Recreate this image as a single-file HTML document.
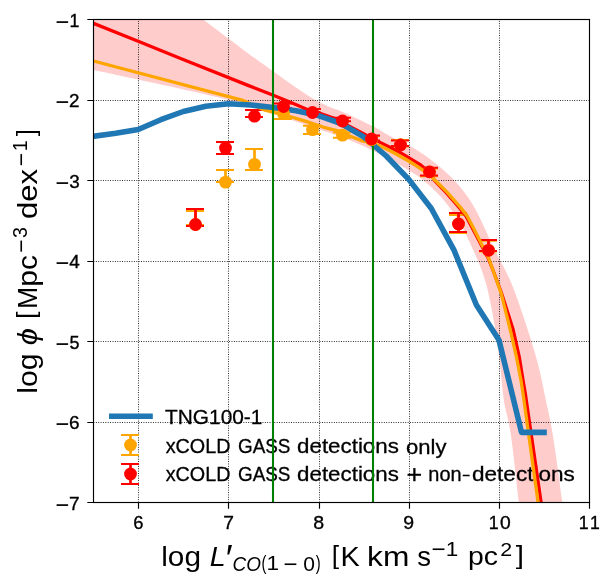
<!DOCTYPE html>
<html><head><meta charset="utf-8"><title>CO luminosity function</title>
<style>
html,body{margin:0;padding:0;background:#fff;}
body{width:613px;height:588px;overflow:hidden;font-family:"Liberation Sans",sans-serif;}
svg{display:block;will-change:transform;}
svg text{font-family:"Liberation Sans",sans-serif;fill:#000;}
</style></head><body>
<svg width="613" height="588" viewBox="0 0 613 588">
<rect width="613" height="588" fill="#fff"/>
<defs><clipPath id="ax"><rect x="93.5" y="19.5" width="496.0" height="483.0"/></clipPath></defs>
<g clip-path="url(#ax)">
<path d="M93.50,-63.30 C104.58,-54.93 141.77,-26.85 160.00,-13.10 C178.23,0.65 188.23,8.15 202.90,19.20 C217.57,30.25 236.30,44.52 248.00,53.20 C259.70,61.88 265.22,65.67 273.10,71.30 C280.98,76.93 287.48,81.78 295.30,87.00 C303.12,92.22 311.73,98.25 320.00,102.60 C328.27,106.95 336.18,109.18 344.90,113.10 C353.62,117.02 364.78,122.27 372.30,126.10 C379.82,129.93 382.05,131.78 390.00,136.10 C397.95,140.42 410.00,145.35 420.00,152.00 C430.00,158.65 441.17,167.17 450.00,176.00 C458.83,184.83 465.53,192.67 473.00,205.00 C480.47,217.33 488.40,236.97 494.80,250.00 C501.20,263.03 506.08,270.45 511.40,283.20 C516.72,295.95 522.23,312.90 526.70,326.50 C531.17,340.10 535.02,352.55 538.20,364.80 C541.38,377.05 543.35,388.27 545.80,400.00 C548.25,411.73 550.17,418.35 552.90,435.20 C555.63,452.05 560.52,489.30 562.20,501.10 C563.88,512.90 562.87,505.18 563.00,506.00 L519.30,506.00 C519.20,505.18 520.10,512.90 518.70,501.10 C517.30,489.30 513.38,452.05 510.90,435.20 C508.42,418.35 505.62,411.73 503.80,400.00 C501.98,388.27 501.50,377.05 500.00,364.80 C498.50,352.55 497.15,340.10 494.80,326.50 C492.45,312.90 489.50,295.95 485.90,283.20 C482.30,270.45 478.35,261.37 473.20,250.00 C468.05,238.63 462.20,225.67 455.00,215.00 C447.80,204.33 439.17,194.33 430.00,186.00 C420.83,177.67 412.45,172.25 400.00,165.00 C387.55,157.75 371.97,149.50 355.30,142.50 C338.63,135.50 321.05,130.07 300.00,123.00 C278.95,115.93 263.42,108.92 229.00,100.10 C194.58,91.28 116.08,75.10 93.50,70.10Z" fill="#ff0000" fill-opacity="0.2"/>
</g>
<path d="M138.50,502.5V19.5 M228.50,502.5V19.5 M319.50,502.5V19.5 M409.50,502.5V19.5 M499.50,502.5V19.5 M93.5,422.50H589.5 M93.5,341.50H589.5 M93.5,261.50H589.5 M93.5,180.50H589.5 M93.5,100.50H589.5" stroke="#000" stroke-width="0.9" stroke-dasharray="0.9 1.48" fill="none"/>
<g id="legendtext">
<text transform="translate(165.03,423.65) scale(0.1043,0.1007)" font-size="200" stroke="#000" stroke-width="2.93">TNG100-1</text>
<text transform="translate(165.65,452.75) scale(0.0988,0.1007)" font-size="200" stroke="#000" stroke-width="3.01">xCOLD</text>
<text transform="translate(238.01,452.75) scale(0.0944,0.1007)" font-size="200" stroke="#000" stroke-width="3.08">GASS</text>
<text transform="translate(165.65,480.65) scale(0.0988,0.1007)" font-size="200" stroke="#000" stroke-width="3.01">xCOLD</text>
<text transform="translate(238.01,480.65) scale(0.0944,0.1007)" font-size="200" stroke="#000" stroke-width="3.08">GASS</text>
<text transform="translate(297.06,452.75) scale(0.1117,0.0993)" font-size="200" stroke="#000" stroke-width="2.84">detections</text>
<text transform="translate(405.97,453.55) scale(0.1103,0.1048)" font-size="200" stroke="#000" stroke-width="2.79">only</text>
<text transform="translate(297.06,480.65) scale(0.1117,0.0993)" font-size="200" stroke="#000" stroke-width="2.84">detections</text>
<text transform="translate(406.55,483.18) scale(0.1345,0.1296)" font-size="200" stroke="#000" stroke-width="2.27">+</text>
<text transform="translate(428.30,480.66) scale(0.0998,0.0973)" font-size="200" stroke="#000" stroke-width="3.04">non</text>
<text transform="translate(461.86,480.41) scale(0.1327,0.0813)" font-size="200" stroke="#000" stroke-width="2.81">-</text>
<text transform="translate(472.05,480.65) scale(0.1127,0.0993)" font-size="200" stroke="#000" stroke-width="2.83">detections</text>
</g>
<g clip-path="url(#ax)">
<path d="M195.50,211.00V225.00" stroke="#ffa500" stroke-width="2.7" fill="none"/>
<path d="M186.00,211.00H204.00" stroke="#ffa500" stroke-width="2.0" fill="none"/>
<path d="M186.00,225.00H204.00" stroke="#ffa500" stroke-width="2.0" fill="none"/>
<path d="M225.50,170.00V182.00" stroke="#ffa500" stroke-width="2.7" fill="none"/>
<path d="M216.00,170.00H234.00" stroke="#ffa500" stroke-width="2.0" fill="none"/>
<path d="M216.00,182.00H234.00" stroke="#ffa500" stroke-width="2.0" fill="none"/>
<path d="M254.50,149.00V170.00" stroke="#ffa500" stroke-width="2.7" fill="none"/>
<path d="M245.00,149.00H263.00" stroke="#ffa500" stroke-width="2.0" fill="none"/>
<path d="M245.00,170.00H263.00" stroke="#ffa500" stroke-width="2.0" fill="none"/>
<path d="M283.50,110.00V119.00" stroke="#ffa500" stroke-width="2.7" fill="none"/>
<path d="M274.00,110.00H292.00" stroke="#ffa500" stroke-width="2.0" fill="none"/>
<path d="M274.00,119.00H292.00" stroke="#ffa500" stroke-width="2.0" fill="none"/>
<path d="M312.50,125.80V134.00" stroke="#ffa500" stroke-width="2.7" fill="none"/>
<path d="M303.00,125.80H321.00" stroke="#ffa500" stroke-width="2.0" fill="none"/>
<path d="M303.00,134.00H321.00" stroke="#ffa500" stroke-width="2.0" fill="none"/>
<path d="M342.50,132.60V137.80" stroke="#ffa500" stroke-width="2.7" fill="none"/>
<path d="M333.00,132.60H351.00" stroke="#ffa500" stroke-width="2.0" fill="none"/>
<path d="M333.00,137.80H351.00" stroke="#ffa500" stroke-width="2.0" fill="none"/>
<path d="M371.50,136.00V141.20" stroke="#ffa500" stroke-width="2.7" fill="none"/>
<path d="M362.00,136.00H380.00" stroke="#ffa500" stroke-width="2.0" fill="none"/>
<path d="M362.00,141.20H380.00" stroke="#ffa500" stroke-width="2.0" fill="none"/>
<path d="M400.50,140.00V146.60" stroke="#ffa500" stroke-width="2.7" fill="none"/>
<path d="M391.00,140.00H409.00" stroke="#ffa500" stroke-width="2.0" fill="none"/>
<path d="M391.00,146.60H409.00" stroke="#ffa500" stroke-width="2.0" fill="none"/>
<path d="M429.50,168.40V176.20" stroke="#ffa500" stroke-width="2.7" fill="none"/>
<path d="M420.00,168.40H438.00" stroke="#ffa500" stroke-width="2.0" fill="none"/>
<path d="M420.00,176.20H438.00" stroke="#ffa500" stroke-width="2.0" fill="none"/>
<path d="M458.50,214.90V232.90" stroke="#ffa500" stroke-width="2.7" fill="none"/>
<path d="M449.00,214.90H467.00" stroke="#ffa500" stroke-width="2.0" fill="none"/>
<path d="M449.00,232.90H467.00" stroke="#ffa500" stroke-width="2.0" fill="none"/>
<path d="M488.50,240.70V251.40" stroke="#ffa500" stroke-width="2.7" fill="none"/>
<path d="M479.00,240.70H497.00" stroke="#ffa500" stroke-width="2.0" fill="none"/>
<path d="M479.00,251.40H497.00" stroke="#ffa500" stroke-width="2.0" fill="none"/>
<path d="M195.50,209.00V226.00" stroke="#ff0000" stroke-width="2.7" fill="none"/>
<path d="M186.00,209.00H204.00" stroke="#ff0000" stroke-width="2.0" fill="none"/>
<path d="M186.00,226.00H204.00" stroke="#ff0000" stroke-width="2.0" fill="none"/>
<path d="M225.50,142.00V154.00" stroke="#ff0000" stroke-width="2.7" fill="none"/>
<path d="M216.00,142.00H234.00" stroke="#ff0000" stroke-width="2.0" fill="none"/>
<path d="M216.00,154.00H234.00" stroke="#ff0000" stroke-width="2.0" fill="none"/>
<path d="M254.50,110.00V117.00" stroke="#ff0000" stroke-width="2.7" fill="none"/>
<path d="M245.00,110.00H263.00" stroke="#ff0000" stroke-width="2.0" fill="none"/>
<path d="M245.00,117.00H263.00" stroke="#ff0000" stroke-width="2.0" fill="none"/>
<path d="M283.50,103.50V108.00" stroke="#ff0000" stroke-width="2.7" fill="none"/>
<path d="M274.00,103.50H292.00" stroke="#ff0000" stroke-width="2.0" fill="none"/>
<path d="M274.00,108.00H292.00" stroke="#ff0000" stroke-width="2.0" fill="none"/>
<path d="M312.50,109.00V112.60" stroke="#ff0000" stroke-width="2.7" fill="none"/>
<path d="M303.00,109.00H321.00" stroke="#ff0000" stroke-width="2.0" fill="none"/>
<path d="M303.00,112.60H321.00" stroke="#ff0000" stroke-width="2.0" fill="none"/>
<path d="M342.50,117.80V121.20" stroke="#ff0000" stroke-width="2.7" fill="none"/>
<path d="M333.00,117.80H351.00" stroke="#ff0000" stroke-width="2.0" fill="none"/>
<path d="M333.00,121.20H351.00" stroke="#ff0000" stroke-width="2.0" fill="none"/>
<path d="M371.50,135.40V140.50" stroke="#ff0000" stroke-width="2.7" fill="none"/>
<path d="M362.00,135.40H380.00" stroke="#ff0000" stroke-width="2.0" fill="none"/>
<path d="M362.00,140.50H380.00" stroke="#ff0000" stroke-width="2.0" fill="none"/>
<path d="M400.50,140.60V146.00" stroke="#ff0000" stroke-width="2.7" fill="none"/>
<path d="M391.00,140.60H409.00" stroke="#ff0000" stroke-width="2.0" fill="none"/>
<path d="M391.00,146.00H409.00" stroke="#ff0000" stroke-width="2.0" fill="none"/>
<path d="M429.50,167.80V175.60" stroke="#ff0000" stroke-width="2.7" fill="none"/>
<path d="M420.00,167.80H438.00" stroke="#ff0000" stroke-width="2.0" fill="none"/>
<path d="M420.00,175.60H438.00" stroke="#ff0000" stroke-width="2.0" fill="none"/>
<path d="M458.50,213.00V232.00" stroke="#ff0000" stroke-width="2.7" fill="none"/>
<path d="M449.00,213.00H467.00" stroke="#ff0000" stroke-width="2.0" fill="none"/>
<path d="M449.00,232.00H467.00" stroke="#ff0000" stroke-width="2.0" fill="none"/>
<path d="M488.50,240.00V251.00" stroke="#ff0000" stroke-width="2.7" fill="none"/>
<path d="M479.00,240.00H497.00" stroke="#ff0000" stroke-width="2.0" fill="none"/>
<path d="M479.00,251.00H497.00" stroke="#ff0000" stroke-width="2.0" fill="none"/>
<path d="M93.50,23.30 L140.00,42.04 L180.00,58.16 L248.00,85.40 L273.30,95.20 L289.80,102.00 L307.40,109.50 L312.60,111.00 L319.20,113.00 L334.80,118.50 L342.40,121.50 L349.80,126.50 L364.50,134.30 L371.40,138.00 L381.10,142.90 L390.90,147.80 L400.40,152.70 L409.50,158.10 L419.80,164.40 L429.20,172.00 L434.60,180.70 L446.40,192.80 L459.10,207.40 L465.90,215.90 L472.70,228.60 L479.70,242.00 L488.50,258.80 L492.90,270.00 L501.60,293.40 L513.00,329.00 L519.30,357.10 L523.00,380.00 L525.20,392.80 L540.90,501.10 L541.50,505.00" stroke="#ff0000" stroke-width="3.3" fill="none" stroke-linejoin="round"/>
<path d="M93.50,61.00 L242.00,100.10 L265.00,110.20 L289.80,116.50 L304.50,120.90 L323.70,127.30 L340.00,131.40 L349.80,136.00 L362.50,141.00 L371.40,143.00 L381.10,146.30 L394.80,153.20 L409.50,161.50 L418.70,167.30 L429.20,174.50 L435.10,180.20 L447.00,192.10 L459.80,206.60 L466.60,215.10 L473.40,227.90 L480.30,241.50 L488.80,258.50 L492.90,270.00 L501.20,293.40 L510.10,329.10 L516.50,357.10 L520.90,380.00 L522.90,392.80 L537.90,501.10 L538.40,505.00" stroke="#ffa500" stroke-width="3.3" fill="none" stroke-linejoin="round"/>
<path d="M93.14,136.40 L115.69,133.30 L138.23,129.50 L160.78,119.70 L183.32,111.50 L205.87,106.30 L228.41,103.70 L250.95,105.00 L273.50,107.60 L296.05,110.80 L318.59,115.60 L341.13,123.60 L363.68,136.90 L386.23,156.00 L408.77,179.40 L431.31,208.50 L453.86,249.80 L476.41,305.00 L498.95,340.00 L521.50,432.40 L544.04,432.40" stroke="#1f77b4" stroke-width="5.56" fill="none" stroke-linejoin="round" stroke-linecap="square"/>
<path d="M273.00,502.5V19.5" stroke="#008000" stroke-width="2.08" fill="none"/>
<path d="M373.00,502.5V19.5" stroke="#008000" stroke-width="2.08" fill="none"/>
<circle cx="195.50" cy="224.50" r="6.4" fill="#ffa500"/>
<circle cx="225.50" cy="182.10" r="6.4" fill="#ffa500"/>
<circle cx="254.50" cy="164.40" r="6.4" fill="#ffa500"/>
<circle cx="283.50" cy="113.60" r="6.4" fill="#ffa500"/>
<circle cx="312.50" cy="129.60" r="6.4" fill="#ffa500"/>
<circle cx="342.50" cy="135.20" r="6.4" fill="#ffa500"/>
<circle cx="371.50" cy="139.60" r="6.4" fill="#ffa500"/>
<circle cx="400.50" cy="144.60" r="6.4" fill="#ffa500"/>
<circle cx="429.50" cy="171.80" r="6.4" fill="#ffa500"/>
<circle cx="458.50" cy="224.00" r="6.4" fill="#ffa500"/>
<circle cx="488.50" cy="250.30" r="6.4" fill="#ffa500"/>
<circle cx="195.50" cy="224.50" r="6.4" fill="#ff0000"/>
<circle cx="225.50" cy="148.10" r="6.4" fill="#ff0000"/>
<circle cx="254.50" cy="116.20" r="6.4" fill="#ff0000"/>
<circle cx="283.50" cy="106.50" r="6.4" fill="#ff0000"/>
<circle cx="312.50" cy="112.50" r="6.4" fill="#ff0000"/>
<circle cx="342.50" cy="121.00" r="6.4" fill="#ff0000"/>
<circle cx="371.50" cy="139.00" r="6.4" fill="#ff0000"/>
<circle cx="400.50" cy="145.00" r="6.4" fill="#ff0000"/>
<circle cx="429.50" cy="171.80" r="6.4" fill="#ff0000"/>
<circle cx="458.50" cy="224.00" r="6.4" fill="#ff0000"/>
<circle cx="488.50" cy="250.30" r="6.4" fill="#ff0000"/>
</g>
<path d="M111.7,416.3H150.1" stroke="#1f77b4" stroke-width="5.4" stroke-linecap="square"/>
<path d="M130.50,435.00V455.00" stroke="#ffa500" stroke-width="2.7" fill="none"/>
<path d="M121.00,435.00H139.00" stroke="#ffa500" stroke-width="2.0" fill="none"/>
<path d="M121.00,455.00H139.00" stroke="#ffa500" stroke-width="2.0" fill="none"/>
<circle cx="130.50" cy="445.00" r="6.4" fill="#ffa500"/>
<path d="M130.50,464.00V484.00" stroke="#ff0000" stroke-width="2.7" fill="none"/>
<path d="M121.00,464.00H139.00" stroke="#ff0000" stroke-width="2.0" fill="none"/>
<path d="M121.00,484.00H139.00" stroke="#ff0000" stroke-width="2.0" fill="none"/>
<circle cx="130.50" cy="474.00" r="6.4" fill="#ff0000"/>
<rect x="93.5" y="19.5" width="496.0" height="483.0" fill="none" stroke="#000" stroke-width="1.15"/>
<path d="M138.50,502.5v6.2 M228.50,502.5v6.2 M319.50,502.5v6.2 M409.50,502.5v6.2 M499.50,502.5v6.2 M589.50,502.5v6.2 M93.5,502.50h-6.2 M93.5,422.50h-6.2 M93.5,341.50h-6.2 M93.5,261.50h-6.2 M93.5,180.50h-6.2 M93.5,100.50h-6.2 M93.5,19.50h-6.2" stroke="#000" stroke-width="1.15" fill="none"/>
<g id="ticklabels">
<text transform="translate(133.26,528.84) scale(0.0919,0.0919)" font-size="200" stroke="#000" stroke-width="3.81">6</text>
<text transform="translate(223.21,529.03) scale(0.0962,0.0946)" font-size="200" stroke="#000" stroke-width="3.67">7</text>
<text transform="translate(313.19,528.84) scale(0.0979,0.0919)" font-size="200" stroke="#000" stroke-width="3.69">8</text>
<text transform="translate(403.20,528.84) scale(0.0973,0.0919)" font-size="200" stroke="#000" stroke-width="3.70">9</text>
<text transform="translate(488.64,529.03) scale(0.0891,0.0946)" font-size="200" stroke="#000" stroke-width="3.81">1</text>
<text transform="translate(499.95,528.84) scale(0.0964,0.0919)" font-size="200" stroke="#000" stroke-width="3.72">0</text>
<text transform="translate(578.64,529.03) scale(0.0891,0.0946)" font-size="200" stroke="#000" stroke-width="3.81">1</text>
<text transform="translate(590.06,529.03) scale(0.0879,0.0946)" font-size="200" stroke="#000" stroke-width="3.84">1</text>
<text transform="translate(55.74,28.54) scale(0.1139,0.1036)" font-size="200" stroke="#000" stroke-width="3.22">−</text>
<text transform="translate(69.59,26.88) scale(0.0891,0.0931)" font-size="200" stroke="#000" stroke-width="3.84">1</text>
<text transform="translate(55.74,108.54) scale(0.1139,0.1036)" font-size="200" stroke="#000" stroke-width="3.22">−</text>
<text transform="translate(69.04,106.88) scale(0.0940,0.0918)" font-size="200" stroke="#000" stroke-width="3.77">2</text>
<text transform="translate(55.74,189.54) scale(0.1139,0.1036)" font-size="200" stroke="#000" stroke-width="3.22">−</text>
<text transform="translate(69.22,187.89) scale(0.0947,0.0919)" font-size="200" stroke="#000" stroke-width="3.75">3</text>
<text transform="translate(55.74,269.54) scale(0.1139,0.1036)" font-size="200" stroke="#000" stroke-width="3.22">−</text>
<text transform="translate(69.20,267.88) scale(0.0946,0.0931)" font-size="200" stroke="#000" stroke-width="3.73">4</text>
<text transform="translate(55.74,350.54) scale(0.1139,0.1036)" font-size="200" stroke="#000" stroke-width="3.22">−</text>
<text transform="translate(69.45,348.89) scale(0.0900,0.0932)" font-size="200" stroke="#000" stroke-width="3.82">5</text>
<text transform="translate(55.74,430.54) scale(0.1139,0.1036)" font-size="200" stroke="#000" stroke-width="3.22">−</text>
<text transform="translate(69.12,428.89) scale(0.0952,0.0919)" font-size="200" stroke="#000" stroke-width="3.74">6</text>
<text transform="translate(55.74,511.54) scale(0.1139,0.1036)" font-size="200" stroke="#000" stroke-width="3.22">−</text>
<text transform="translate(69.12,509.88) scale(0.0951,0.0931)" font-size="200" stroke="#000" stroke-width="3.72">7</text>
</g>
<g id="xlabel">
<text transform="translate(161.22,565.66) scale(0.1489,0.1342)" font-size="200">log</text>
<text transform="translate(209.64,566.00) scale(0.1429,0.1413)" font-size="200" font-style="italic">L</text>
<text transform="translate(223.92,571.11) scale(0.1863,0.1863)" font-size="200" font-style="italic">′</text>
<text transform="translate(232.46,570.60) scale(0.0947,0.0979)" font-size="200" font-style="italic">CO</text>
<text transform="translate(261.42,569.91) scale(0.0736,0.0973)" font-size="200">(</text>
<text transform="translate(266.41,570.45) scale(0.1126,0.0967)" font-size="200">1</text>
<text transform="translate(283.59,572.26) scale(0.1206,0.1143)" font-size="200">−</text>
<text transform="translate(303.16,570.51) scale(0.1052,0.0972)" font-size="200">0</text>
<text transform="translate(315.63,569.91) scale(0.0736,0.0973)" font-size="200">)</text>
<text transform="translate(331.64,564.43) scale(0.1325,0.1278)" font-size="200">[</text>
<text transform="translate(340.39,565.90) scale(0.1443,0.1380)" font-size="200">K</text>
<text transform="translate(367.04,565.90) scale(0.1585,0.1379)" font-size="200">km</text>
<text transform="translate(417.23,565.83) scale(0.1374,0.1339)" font-size="200">s</text>
<text transform="translate(431.48,557.06) scale(0.1216,0.1143)" font-size="200">−</text>
<text transform="translate(445.71,555.65) scale(0.1126,0.0964)" font-size="200">1</text>
<text transform="translate(468.05,565.47) scale(0.1420,0.1293)" font-size="200">pc</text>
<text transform="translate(500.18,555.65) scale(0.1071,0.0961)" font-size="200">2</text>
<text transform="translate(515.75,564.43) scale(0.1475,0.1278)" font-size="200">]</text>
</g>
<g id="ylabel" transform="translate(37.0,391.8) rotate(-90)">
<text transform="translate(-1.97,-0.06) scale(0.1515,0.1382)" font-size="200">log</text>
<text transform="translate(46.67,-0.06) scale(0.1545,0.1382)" font-size="200" font-style="italic">ϕ</text>
<text transform="translate(73.02,-1.65) scale(0.1275,0.1273)" font-size="200">[</text>
<text transform="translate(82.77,0.00) scale(0.1328,0.1395)" font-size="200">M</text>
<text transform="translate(105.05,0.05) scale(0.1497,0.1357)" font-size="200">pc</text>
<text transform="translate(138.96,-8.14) scale(0.1144,0.1143)" font-size="200">−</text>
<text transform="translate(153.82,-10.10) scale(0.0979,0.0979)" font-size="200">3</text>
<text transform="translate(172.76,-0.08) scale(0.1554,0.1381)" font-size="200">dex</text>
<text transform="translate(225.56,-8.14) scale(0.1144,0.1143)" font-size="200">−</text>
<text transform="translate(240.53,-10.10) scale(0.0977,0.0993)" font-size="200">1</text>
<text transform="translate(255.47,-1.65) scale(0.1288,0.1273)" font-size="200">]</text>
</g>
</svg></body></html>
